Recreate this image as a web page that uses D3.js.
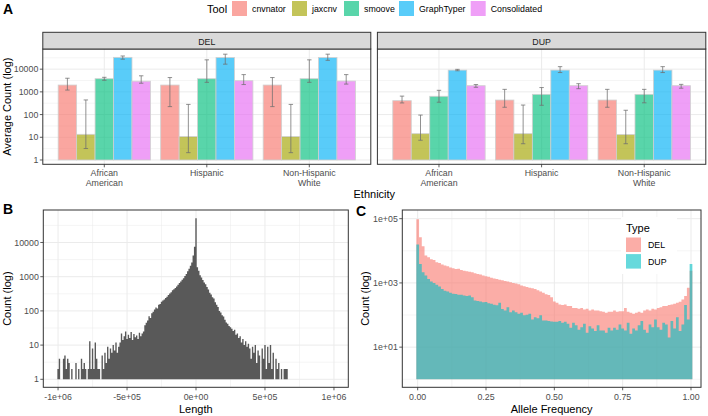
<!DOCTYPE html>
<html><head><meta charset="utf-8">
<script src="https://cdn.jsdelivr.net/npm/d3@7"></script>
<style>body{margin:0;background:#fff}svg text{font-family:"Liberation Sans",Arial,sans-serif}</style>
</head><body>
<svg id="chart" width="708" height="416"></svg>
<script>
// ---------------- DATA ----------------
const ethnicities = [["African","American"],["Hispanic"],["Non-Hispanic","White"]];
const tools = ["cnvnator","jaxcnv","smoove","GraphTyper","Consolidated"];
const toolColors = ["#F8766D","#A3A500","#00BF7D","#00B0F6","#E76BF3"];
const svTypes = ["DEL","DUP"];
// Panel A: average counts per ethnicity (rows) x tool (cols)
const delMean = [[2000,13.5,3800,33100,2950],[2000,10.7,3800,32400,3100],[2000,10.7,3800,32400,3000]];
const delLow  = [[1200,3.2,3240,27500,2400],[224,2.1,2630,16600,2100],[224,2.1,2630,24500,2200]];
const delHigh = [[3980,440,4370,38000,5100],[4270,280,25700,45700,5750],[4270,280,25700,45700,5750]];
const dupMean = [[410,14.4,640,9100,1870],[437,14.4,780,9100,1870],[437,13.2,780,9100,1870]];
const dupLow  = [[325,7.4,350,8500,1590],[210,5.2,257,7100,1380],[210,5.2,330,7100,1450]];
const dupHigh = [[650,95,1170,9800,2100],[1290,263,1550,12900,2290],[1290,155,1290,12900,2140]];
const aTicks = [1,10,100,1000,10000];
const aTickLabels = ["1","10","100","1000","10000"];

// Panel B: histogram of lengths, bin width 10000, first bin centered at -1e6
const lengthBinStart = -1000000;
const lengthBinWidth = 10000;
const lengthCounts = [2,4,0,1,4,5,2,4,3,0,2,1,0,3,1,2,1,4,2,3,2,1,2,13,2,8,2,12,4,2,
 2,1,5,2,6,3,9,4,8,6,10,7,12,6,9,12,22,14,18,25,15,20,16,24,14,21,17,19,15,23,
 18,22,25,38,45,52,70,62,85,95,110,125,118,150,160,185,200,215,240,260,290,320,350,400,430,470,520,580,650,720,
 820,900,1050,1200,1450,1700,2100,2600,4200,7500,51000,1900,1500,1100,950,800,680,600,500,420,
 340,300,250,230,180,150,130,100,90,75,68,55,46,42,36,33,30,26,28,20,22,16,18,12,15,10,13,9,11,8,
 4,9,6,10,3,7,5,1,8,4,10,2,9,3,10,2,6,1,4,2,3,1,2,1,2,2,2];
const bTicks = [-1000000,-500000,0,500000,1000000];
const bTickLabels = ["-1e+06","-5e+05","0e+00","5e+05","1e+06"];
const bYTicks = [1,10,100,1000,10000];
const bYTickLabels = ["1","10","100","1000","10000"];

// Panel C: allele frequency histogram, 101 bins of width 0.01 centered at 0..1
const afBinWidth = 0.01;
const afDel = [95500,26300,13800,7080,6310,5500,5130,4370,4170,3720,3470,3310,3020,2880,2690,2750,2510,2400,2290,2240,
 2140,2000,1910,1820,1700,1620,1550,1450,1380,1320,1260,1200,1150,1100,1050,1000,955,912,832,794,
 741,708,676,646,589,537,490,447,417,355,263,240,214,204,214,191,191,166,166,158,
 166,148,158,138,148,138,138,132,126,117,126,126,138,126,132,132,166,126,117,110,
 117,126,117,138,148,138,158,148,166,174,191,191,204,214,224,240,257,302,389,708,2400];
const afDup = [15800,3890,2140,1700,1320,1100,1000,871,776,646,575,537,490,457,450,427,430,407,389,407,
 355,282,275,263,251,255,234,224,209,200,240,155,138,174,123,138,123,110,117,98,
 102,110,72,85,79,98,68,68,65,63,62,62,65,58,62,54,40,58,48,35,
 42,54,28,45,38,32,48,33,33,28,40,33,40,35,51,38,33,58,26,38,
 33,48,65,35,28,51,42,72,42,35,58,51,20,65,38,85,32,51,204,72,3890];
const cTicks = [0,0.25,0.5,0.75,1];
const cTickLabels = ["0.00","0.25","0.50","0.75","1.00"];
const cYTicks = [10,1000,100000];
const cYTickLabels = ["1e+01","1e+03","1e+05"];
const typeColors = ["#F8766D","#00BFC4"];

// ---------------- DRAWING ----------------
const svg = d3.select("#chart");
const GRID = "#EBEBEB", BORDER = "#333333", TICKTXT = "#4D4D4D";
const TS = 8.8, TT = 11;

function hGrid(g, y, vals, x0, x1, w){
  g.selectAll(null).data(vals).join("line")
   .attr("x1",x0).attr("x2",x1).attr("y1",d=>y(d)).attr("y2",d=>y(d))
   .attr("stroke",GRID).attr("stroke-width",w);
}
function vGrid(g, xs, y0, y1, w){
  g.selectAll(null).data(xs).join("line")
   .attr("x1",d=>d).attr("x2",d=>d).attr("y1",y0).attr("y2",y1)
   .attr("stroke",GRID).attr("stroke-width",w);
}
function yAxis(g, y, ticks, labels, x0){
  g.selectAll(null).data(ticks).join("line")
   .attr("x1",x0-3).attr("x2",x0).attr("y1",d=>y(d)).attr("y2",d=>y(d))
   .attr("stroke",BORDER).attr("stroke-width",0.8);
  g.selectAll(null).data(ticks).join("text")
   .attr("x",x0-4.5).attr("y",d=>y(d)).attr("dy","0.35em")
   .attr("text-anchor","end").attr("font-size",TS).attr("fill",TICKTXT)
   .text((d,i)=>labels[i]);
}
function xAxis(g, x, ticks, labels, y0){
  g.selectAll(null).data(ticks).join("line")
   .attr("x1",d=>x(d)).attr("x2",d=>x(d)).attr("y1",y0).attr("y2",y0+3)
   .attr("stroke",BORDER).attr("stroke-width",0.8);
  g.selectAll(null).data(ticks).join("text")
   .attr("x",d=>x(d)).attr("y",y0+13.1)
   .attr("text-anchor","middle").attr("font-size",TS).attr("fill",TICKTXT)
   .text((d,i)=>labels[i]);
}
function border(g,x0,x1,y0,y1){
  g.append("rect").attr("x",x0).attr("y",y0).attr("width",x1-x0).attr("height",y1-y0)
   .attr("fill","none").attr("stroke",BORDER).attr("stroke-width",1);
}
function yTitle(x, yc, txt){
  svg.append("text").attr("transform",`translate(${x},${yc}) rotate(-90)`)
    .attr("text-anchor","middle").attr("font-size",TT).attr("fill","#000").text(txt);
}
function tag(x,y,txt){
  svg.append("text").attr("x",x).attr("y",y).attr("font-size",14).attr("font-weight","bold").attr("fill","#000").text(txt);
}
// stepped histogram outline as one path (bins centered at start + i*width), from count 1 baseline
function histPath(counts, start, width, x, y){
  const base = y(1);
  let p = `M${x(start - width/2)},${base}`;
  counts.forEach((c,i)=>{
    const xl = x(start + i*width - width/2), xr = x(start + i*width + width/2);
    const yt = c >= 1 ? y(c) : base;
    p += `L${xl},${yt}L${xr},${yt}`;
  });
  p += `L${x(start + (counts.length-1)*width + width/2)},${base}Z`;
  return p;
}

// ===== Panel A =====
const aTop = 49, aBot = 164.3, stripTop = 32.3;
const aY = d3.scaleLog().domain([Math.pow(10,-0.19), Math.pow(10,4.888)]).range([aBot, aTop]);
const aMinor = [0.5,1.5,2.5,3.5,4.5].map(e=>Math.pow(10,e));
const ethKeys = ethnicities.map(e=>e.join(" "));
const panelsA = [
  {type:svTypes[0], x0:42.8, x1:370.8, mean:delMean, lo:delLow, hi:delHigh},
  {type:svTypes[1], x0:377.4, x1:705.8, mean:dupMean, lo:dupLow, hi:dupHigh}
];
panelsA.forEach((p,pi)=>{
  const g = svg.append("g");
  const xP = d3.scalePoint().domain(ethKeys).range([p.x0,p.x1]).padding(0.6);
  const step = xP.step();
  const inner = d3.scaleBand().domain(tools).range([-0.45*step,0.45*step]).padding(0);
  g.append("rect").attr("x",p.x0).attr("y",aTop).attr("width",p.x1-p.x0).attr("height",aBot-aTop).attr("fill","#fff");
  hGrid(g,aY,aMinor,p.x0,p.x1,0.5);
  hGrid(g,aY,aTicks,p.x0,p.x1,1);
  vGrid(g,ethKeys.map(e=>xP(e)),aTop,aBot,1);
  ethKeys.forEach((e,ei)=>{
    tools.forEach((t,ti)=>{
      const bx = xP(e)+inner(t), bw = inner.bandwidth();
      g.append("rect").attr("x",bx).attr("y",aY(p.mean[ei][ti]))
        .attr("width",bw).attr("height",aY(1)-aY(p.mean[ei][ti]))
        .attr("fill",toolColors[ti]).attr("fill-opacity",0.65)
        .attr("stroke","#D0D0D0").attr("stroke-width",0.8);
    });
  });
  ethKeys.forEach((e,ei)=>{
    tools.forEach((t,ti)=>{
      const cx = xP(e)+inner(t)+inner.bandwidth()/2;
      const y1 = aY(p.lo[ei][ti]), y2 = aY(p.hi[ei][ti]);
      const eg = g.append("g").attr("stroke","#6E6E6E").attr("stroke-width",0.9).attr("stroke-opacity",0.85);
      eg.append("line").attr("x1",cx).attr("x2",cx).attr("y1",y1).attr("y2",y2);
      eg.append("line").attr("x1",cx-2.2).attr("x2",cx+2.2).attr("y1",y1).attr("y2",y1);
      eg.append("line").attr("x1",cx-2.2).attr("x2",cx+2.2).attr("y1",y2).attr("y2",y2);
    });
  });
  border(g,p.x0,p.x1,aTop,aBot);
  g.append("rect").attr("x",p.x0).attr("y",stripTop).attr("width",p.x1-p.x0).attr("height",aTop-stripTop)
    .attr("fill","#D9D9D9").attr("stroke",BORDER).attr("stroke-width",1);
  g.append("text").attr("x",(p.x0+p.x1)/2).attr("y",45.2).attr("text-anchor","middle")
    .attr("font-size",TS).attr("fill","#1A1A1A").text(p.type);
  g.selectAll(null).data(ethKeys).join("line")
    .attr("x1",d=>xP(d)).attr("x2",d=>xP(d)).attr("y1",aBot).attr("y2",aBot+3)
    .attr("stroke",BORDER).attr("stroke-width",0.8);
  ethnicities.forEach((lines,ei)=>{
    const t = g.append("text").attr("text-anchor","middle").attr("font-size",TS).attr("fill",TICKTXT);
    lines.forEach((ln,li)=>{
      t.append("tspan").attr("x",xP(ethKeys[ei])).attr("y",176.4+li*9.4).text(ln);
    });
  });
  if(pi===0) yAxis(g,aY,aTicks,aTickLabels,p.x0);
});
yTitle(11.3,(aTop+aBot)/2,"Average Count (log)");
svg.append("text").attr("x",(42.8+705.8)/2).attr("y",197.8).attr("text-anchor","middle")
  .attr("font-size",TT).attr("fill","#000").text("Ethnicity");
const legA = svg.append("g");
legA.append("text").attr("x",207).attr("y",13.2).attr("font-size",TT).attr("fill","#000").text("Tool");
const keyX = [232,292,344,399,470.7];
tools.forEach((t,i)=>{
  legA.append("rect").attr("x",keyX[i]).attr("y",1).attr("width",15).attr("height",15)
    .attr("fill",toolColors[i]).attr("fill-opacity",0.65);
  legA.append("text").attr("x",keyX[i]+20).attr("y",11.6).attr("font-size",TS).attr("fill","#000").text(t);
});
tag(3,13.5,"A");

// ===== Panel B =====
const bX0=43.3,bX1=348.3,bTop=210,bBot=387.3;
const bX = d3.scaleLinear().domain([-1107000,1104000]).range([bX0,bX1]);
const bY = d3.scaleLog().domain([Math.pow(10,-0.234),Math.pow(10,4.95)]).range([bBot,bTop]);
const gB = svg.append("g");
gB.append("rect").attr("x",bX0).attr("y",bTop).attr("width",bX1-bX0).attr("height",bBot-bTop).attr("fill","#fff");
hGrid(gB,bY,[0.5,1.5,2.5,3.5,4.5].map(e=>Math.pow(10,e)),bX0,bX1,0.5);
hGrid(gB,bY,bYTicks,bX0,bX1,1);
vGrid(gB,[-750000,-250000,250000,750000].map(bX),bTop,bBot,0.5);
vGrid(gB,bTicks.map(bX),bTop,bBot,1);
gB.append("path").attr("d",histPath(lengthCounts,lengthBinStart,lengthBinWidth,bX,bY))
  .attr("fill","#595959");
border(gB,bX0,bX1,bTop,bBot);
yAxis(gB,bY,bYTicks,bYTickLabels,bX0);
xAxis(gB,bX,bTicks,bTickLabels,bBot);
yTitle(11,(bTop+bBot)/2,"Count (log)");
svg.append("text").attr("x",(bX0+bX1)/2).attr("y",413).attr("text-anchor","middle")
  .attr("font-size",TT).attr("fill","#000").text("Length");
tag(3,214,"B");

// ===== Panel C =====
const cX0=402.3,cX1=701,cTop=210,cBot=387.3;
const cX = d3.scaleLinear().domain([-0.0563,1.0366]).range([cX0,cX1]);
const cY = d3.scaleLog().domain([Math.pow(10,-0.25),Math.pow(10,5.27)]).range([cBot,cTop]);
const gC = svg.append("g");
gC.append("rect").attr("x",cX0).attr("y",cTop).attr("width",cX1-cX0).attr("height",cBot-cTop).attr("fill","#fff");
hGrid(gC,cY,[1,100,10000],cX0,cX1,0.5);
hGrid(gC,cY,cYTicks,cX0,cX1,1);
vGrid(gC,[0.125,0.375,0.625,0.875].map(cX),cTop,cBot,0.5);
vGrid(gC,cTicks.map(cX),cTop,cBot,1);
[afDel,afDup].forEach((arr,k)=>{
  gC.append("path").attr("d",histPath(arr,0,afBinWidth,cX,cY))
    .attr("fill",typeColors[k]).attr("fill-opacity",0.6);
});
const legC = gC.append("g");
legC.append("rect").attr("x",621).attr("y",217).attr("width",56).attr("height",57).attr("fill","#fff");
legC.append("text").attr("x",626).attr("y",231.5).attr("font-size",TT).attr("fill","#000").text("Type");
svTypes.forEach((t,i)=>{
  legC.append("rect").attr("x",626).attr("y",237.5+i*16.6).attr("width",15).attr("height",14.5)
    .attr("fill",typeColors[i]).attr("fill-opacity",0.6);
  legC.append("text").attr("x",648).attr("y",247.9+i*16.6).attr("font-size",TS).attr("fill","#000").text(t);
});
border(gC,cX0,cX1,cTop,cBot);
yAxis(gC,cY,cYTicks,cYTickLabels,cX0);
xAxis(gC,cX,cTicks,cTickLabels,cBot);
yTitle(369,(cTop+cBot)/2,"Count (log)");
svg.append("text").attr("x",(cX0+cX1)/2).attr("y",413).attr("text-anchor","middle")
  .attr("font-size",TT).attr("fill","#000").text("Allele Frequency");
tag(356,216,"C");
</script>
</body></html>
